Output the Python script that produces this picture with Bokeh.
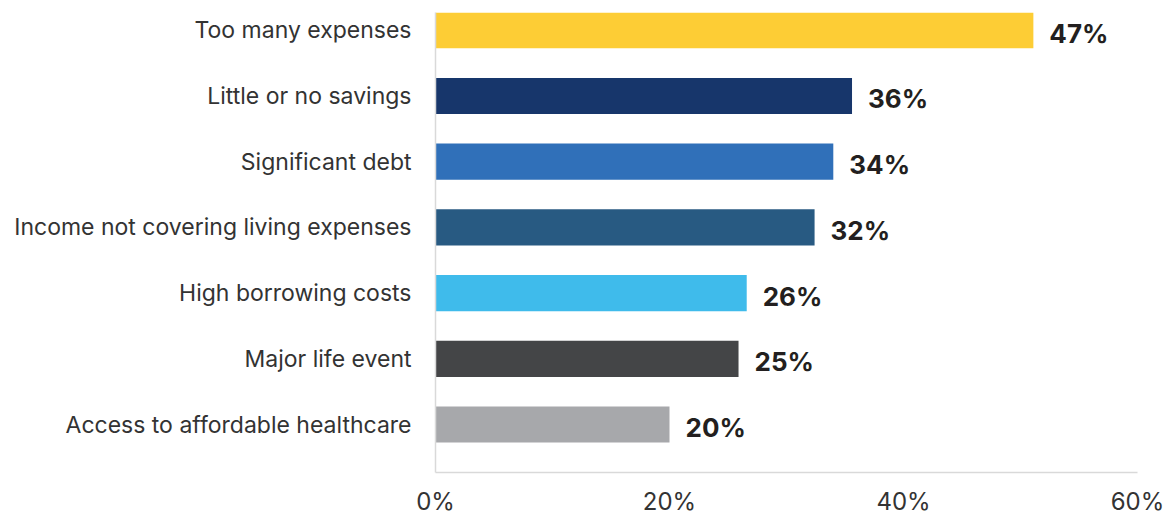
from bokeh.plotting import figure
from bokeh.models import Range1d, FixedTicker, ColumnDataSource
from bokeh.core.properties import value
from bokeh.embed import file_html
from bokeh.resources import INLINE

categories = ["Too many expenses", "Little or no savings", "Significant debt",
              "Income not covering living expenses", "High borrowing costs",
              "Major life event", "Access to affordable healthcare"]
bar_lengths = [51.1, 35.6, 34.0, 32.4, 26.6, 25.9, 20.0]
value_labels = ["47%", "36%", "34%", "32%", "26%", "25%", "20%"]
colors = ["#FDCD35", "#17366B", "#3070B9", "#285A82", "#3FBBEB", "#444547", "#A7A8AB"]
x_ticks = [0, 20, 40, 60]
x_tick_labels = ["0%", "20%", "40%", "60%"]

pos = list(range(len(categories)))
src = ColumnDataSource(dict(y=pos, v=bar_lengths, c=colors, lab=value_labels))

p = figure(width=1171, height=518, output_backend="svg", toolbar_location=None,
           x_range=Range1d(0, 60), y_range=Range1d(6.73, -0.27),
           min_border_left=435, min_border_right=34, min_border_top=12,
           min_border_bottom=0)
p.hbar(y="y", right="v", left=0, height=0.55, fill_color="c", line_color=None, source=src)
p.text(x="v", y="y", text="lab", source=src, x_offset=16, y_offset=3, text_baseline="middle",
       text_align="left", text_font=value("Inter"), text_font_style="bold",
       text_font_size="26px", text_color="#231F20")

p.grid.visible = False
p.outline_line_color = None
p.background_fill_color = "white"
p.border_fill_color = "white"

p.xaxis.ticker = FixedTicker(ticks=x_ticks)
p.xaxis.major_label_overrides = {t: l for t, l in zip(x_ticks, x_tick_labels)}
p.xaxis.major_label_text_font = "Inter"
p.xaxis.major_label_text_font_size = "24px"
p.xaxis.major_label_text_font_style = "normal"
p.xaxis.major_label_text_color = "#333333"
p.xaxis.major_label_text_line_height = 1.0
p.xaxis.major_label_standoff = 14
p.xaxis.major_tick_line_color = None
p.xaxis.major_tick_out = 0
p.xaxis.major_tick_in = 0
p.xaxis.minor_tick_line_color = None
p.xaxis.minor_tick_out = 0
p.xaxis.axis_line_color = "#D9D9D9"
p.xaxis.axis_line_width = 1.5

p.yaxis.ticker = FixedTicker(ticks=pos)
p.yaxis.major_label_overrides = {i: c for i, c in zip(pos, categories)}
p.yaxis.major_label_text_font = "Inter"
p.yaxis.major_label_text_font_size = "23px"
p.yaxis.major_label_text_color = "#333333"
p.yaxis.major_label_standoff = 24
p.yaxis.major_tick_line_color = None
p.yaxis.major_tick_out = 0
p.yaxis.minor_tick_line_color = None
p.yaxis.minor_tick_out = 0
p.yaxis.axis_line_color = "#D9D9D9"
p.yaxis.axis_line_width = 1.5

open("out.html", "w").write(file_html(p, INLINE))
